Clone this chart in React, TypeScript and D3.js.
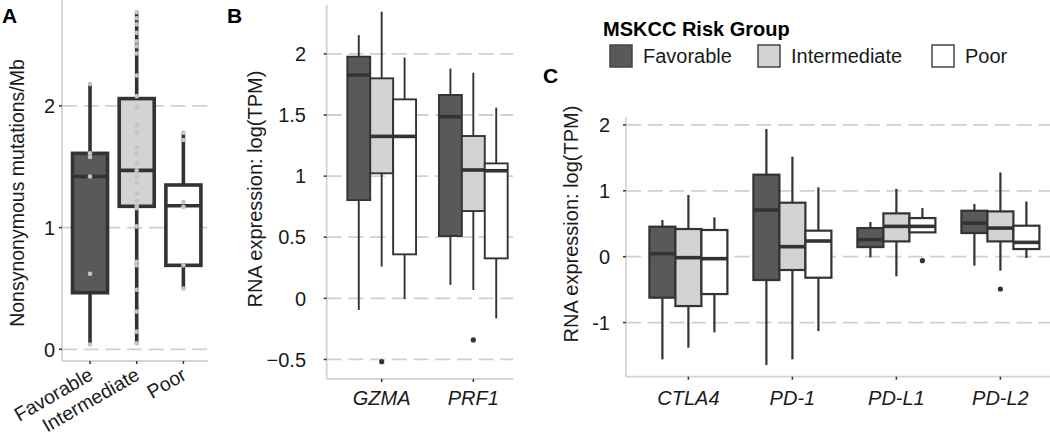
import React from "react";
import * as d3 from "d3";

// ---------- shared ----------
const riskGroups = ["Favorable", "Intermediate", "Poor"];
const groupFills = ["#595959", "#d3d3d3", "#ffffff"];

// ---------- Panel A: nonsynonymous mutations / Mb ----------
const tmbLow = [0.04, 0.04, 0.49];
const tmbQ1 = [0.465, 1.175, 0.69];
const tmbMedian = [1.42, 1.47, 1.18];
const tmbQ3 = [1.61, 2.06, 1.35];
const tmbHigh = [2.18, 2.77, 1.775];
const tmbPointsFavorable = [2.18, 1.61, 1.58, 1.42, 0.62, 0.04];
const tmbPointsIntermediate = [
  2.77, 2.72, 2.67, 2.6, 2.53, 2.49, 2.43, 2.25, 2.08, 1.99, 1.84, 1.78, 1.66, 1.61, 1.53,
  1.47, 1.42, 1.37, 1.28, 1.22, 1.18, 1.16, 1.01, 0.72, 0.69, 0.49, 0.31, 0.145, 0.05,
];
const tmbPointsPoor = [1.78, 1.72, 1.21, 1.17, 0.69, 0.5];
const tmbTicks = [0, 1, 2];

// ---------- Panel B: GZMA / PRF1 ----------
const cytolyticGenes = ["GZMA", "PRF1"];
const bLow = [[-0.095, 0.26, -0.005], [0.11, 0.068, -0.164]];
const bQ1 = [[0.804, 1.023, 0.36], [0.51, 0.714, 0.327]];
const bMedian = [[1.827, 1.325, 1.325], [1.486, 1.05, 1.044]];
const bQ3 = [[1.977, 1.8, 1.628], [1.664, 1.328, 1.104]];
const bHigh = [[2.154, 2.345, 1.97], [1.88, 1.846, 1.56]];
const bOutlierGene = [0, 1];
const bOutlierGroup = [1, 1];
const bOutlierValue = [-0.518, -0.34];
const bTicks = [-0.5, 0, 0.5, 1, 1.5, 2];

// ---------- Panel C: checkpoint genes ----------
const checkpointGenes = ["CTLA4", "PD-1", "PD-L1", "PD-L2"];
const cLow = [[-1.558, -1.381, -1.148], [-1.644, -1.558, -1.128], [-0.01, -0.298, 0.369], [-0.136, -0.212, -0.02]];
const cQ1 = [[-0.622, -0.749, -0.567], [-0.354, -0.202, -0.319], [0.146, 0.232, 0.369], [0.359, 0.232, 0.116]];
const cMedian = [[0.046, -0.015, -0.03], [0.708, 0.152, 0.238], [0.258, 0.46, 0.46], [0.51, 0.434, 0.217]];
const cQ3 = [[0.455, 0.42, 0.405], [1.244, 0.819, 0.395], [0.434, 0.657, 0.586], [0.697, 0.687, 0.47]];
const cHigh = [[0.556, 0.936, 0.597], [1.937, 1.517, 1.052], [0.525, 1.03, 0.737], [0.798, 1.278, 0.838]];
const cOutlierGene = [2, 3];
const cOutlierGroup = [2, 1];
const cOutlierValue = [-0.06, -0.49];
const cTicks = [-1, 0, 1, 2];

const FONT = "'Liberation Sans', Arial, Helvetica, sans-serif";
const INK = "#333333";
const AXIS = "#d4d4d4";
const GRID = "#d0d0d0";

type BoxProps = {
  cx: number; w: number; y: d3.ScaleLinear<number, number>;
  lo: number; q1: number; med: number; q3: number; hi: number;
  fill: string; sw: number; msw: number;
};

function Box({ cx, w, y, lo, q1, med, q3, hi, fill, sw, msw }: BoxProps) {
  return (
    <g>
      <line x1={cx} x2={cx} y1={y(hi)} y2={y(q3)} stroke={INK} strokeWidth={sw} />
      <line x1={cx} x2={cx} y1={y(q1)} y2={y(lo)} stroke={INK} strokeWidth={sw} />
      <rect x={cx - w / 2} y={y(q3)} width={w} height={y(q1) - y(q3)} fill={fill} stroke={INK} strokeWidth={sw} />
      <line x1={cx - w / 2} x2={cx + w / 2} y1={y(med)} y2={y(med)} stroke={INK} strokeWidth={msw} />
    </g>
  );
}

function YAxis({ y, ticks, x0, x1, labelRight, fmt }: {
  y: d3.ScaleLinear<number, number>; ticks: number[]; x0: number; x1: number; labelRight: number; fmt: (v: number) => string;
}) {
  const [r0, r1] = y.range();
  return (
    <g>
      {ticks.map((t) => (
        <line key={"g" + t} x1={x0} x2={x1} y1={y(t)} y2={y(t)} stroke={GRID} strokeWidth={1.8} strokeDasharray="15 6.7" />
      ))}
      <line x1={x0} x2={x0} y1={r0} y2={r1} stroke={AXIS} strokeWidth={1.8} />
      {ticks.map((t) => (
        <g key={"t" + t}>
          <line x1={x0 - 3} x2={x0} y1={y(t)} y2={y(t)} stroke={INK} strokeWidth={1.5} />
          <text x={labelRight} y={y(t)} dy="0.36em" textAnchor="end" fontSize={20} fill="#1a1a1a">{fmt(t)}</text>
        </g>
      ))}
    </g>
  );
}

export default function App() {
  // Panel A scales
  const xA = d3.scalePoint<string>().domain(riskGroups).range([62, 211.4]).padding(0.6);
  const yA = d3.scaleLinear().domain([-0.096, 2.87]).range([361, 0]);
  const wA = xA.step() * 0.75;
  const tmbPoints = [tmbPointsFavorable, tmbPointsIntermediate, tmbPointsPoor];

  // Panel B scales
  const xB = d3.scalePoint<string>().domain(cytolyticGenes).range([326.7, 528.3]).padding(0.6);
  const yB = d3.scaleLinear().domain([-0.66, 2.4]).range([379, 5]);
  const wB = (xB.step() * 0.75) / 3;

  // Panel C scales
  const xC = d3.scalePoint<string>().domain(checkpointGenes).range([626, 1062.8]).padding(0.6);
  const yC = d3.scaleLinear().domain([-1.821, 2.124]).range([376.7, 116.7]);
  const wC = (xC.step() * 0.75) / 3;

  const fmtB = d3.format("");

  return (
    <svg width={1050} height={437} style={{ position: "absolute", left: 0, top: 0, background: "#fff" }} fontFamily={FONT}>
      <rect width={1050} height={437} fill="#ffffff" />

      {/* ---------------- Panel A ---------------- */}
      <g>
        <YAxis y={yA} ticks={tmbTicks} x0={62} x1={208} labelRight={55} fmt={(v) => String(v)} />
        <line x1={62} x2={208} y1={361} y2={361} stroke={AXIS} strokeWidth={1.8} />
        {riskGroups.map((g, i) => (
          <Box key={g} cx={xA(g)!} w={wA} y={yA} lo={tmbLow[i]} q1={tmbQ1[i]} med={tmbMedian[i]} q3={tmbQ3[i]} hi={tmbHigh[i]}
            fill={groupFills[i]} sw={3.6} msw={3.6} />
        ))}
        {riskGroups.map((g, i) =>
          tmbPoints[i].map((v, j) => (
            <circle key={g + j} cx={xA(g)!} cy={yA(v)} r={2.3} fill="#c4c4c4" />
          ))
        )}
        {riskGroups.map((g) => (
          <g key={"xt" + g}>
            <line x1={xA(g)!} x2={xA(g)!} y1={361} y2={364} stroke={INK} strokeWidth={1.5} />
            <text transform={`translate(${xA(g)! - 3},${366}) rotate(-30)`} textAnchor="end" dy="0.75em" fontSize={19.5} fill="#1a1a1a">{g}</text>
          </g>
        ))}
        <text transform="translate(17,193) rotate(-90)" textAnchor="middle" dy="0.35em" fontSize={19.5} fill="#1a1a1a">Nonsynonymous mutations/Mb</text>
        <text x={2} y={23} fontSize={21} fontWeight="bold" fill="#000">A</text>
      </g>

      {/* ---------------- Panel B ---------------- */}
      <g>
        <YAxis y={yB} ticks={bTicks} x0={326.7} x1={513} labelRight={306} fmt={(v) => fmtB(v)} />
        <line x1={326.7} x2={513} y1={379} y2={379} stroke={AXIS} strokeWidth={1.8} />
        {cytolyticGenes.map((gene, gi) =>
          riskGroups.map((g, i) => (
            <Box key={gene + g} cx={xB(gene)! + (i - 1) * wB} w={wB} y={yB}
              lo={bLow[gi][i]} q1={bQ1[gi][i]} med={bMedian[gi][i]} q3={bQ3[gi][i]} hi={bHigh[gi][i]}
              fill={groupFills[i]} sw={1.9} msw={3.6} />
          ))
        )}
        {bOutlierValue.map((v, k) => (
          <circle key={"bo" + k} cx={xB(cytolyticGenes[bOutlierGene[k]])! + (bOutlierGroup[k] - 1) * wB} cy={yB(v)} r={2.6} fill={INK} />
        ))}
        {cytolyticGenes.map((gene) => (
          <g key={"xb" + gene}>
            <line x1={xB(gene)!} x2={xB(gene)!} y1={379} y2={382} stroke={INK} strokeWidth={1.5} />
            <text x={xB(gene)!} y={405} textAnchor="middle" fontSize={20} fontStyle="italic" fill="#1a1a1a">{gene}</text>
          </g>
        ))}
        <text transform="translate(255,189) rotate(-90)" textAnchor="middle" dy="0.35em" fontSize={20} fill="#1a1a1a">RNA expression: log(TPM)</text>
        <text x={227} y={23} fontSize={21} fontWeight="bold" fill="#000">B</text>
      </g>

      {/* ---------------- Panel C ---------------- */}
      <g>
        <YAxis y={yC} ticks={cTicks} x0={626} x1={1050} labelRight={610} fmt={(v) => String(v)} />
        <line x1={626} x2={1050} y1={376.7} y2={376.7} stroke={AXIS} strokeWidth={1.8} />
        {checkpointGenes.map((gene, gi) =>
          riskGroups.map((g, i) => (
            <Box key={gene + g} cx={xC(gene)! + (i - 1) * wC} w={wC} y={yC}
              lo={cLow[gi][i]} q1={cQ1[gi][i]} med={cMedian[gi][i]} q3={cQ3[gi][i]} hi={cHigh[gi][i]}
              fill={groupFills[i]} sw={2.2} msw={3.6} />
          ))
        )}
        {cOutlierValue.map((v, k) => (
          <circle key={"co" + k} cx={xC(checkpointGenes[cOutlierGene[k]])! + (cOutlierGroup[k] - 1) * wC} cy={yC(v)} r={2.6} fill={INK} />
        ))}
        {checkpointGenes.map((gene) => (
          <g key={"xc" + gene}>
            <line x1={xC(gene)!} x2={xC(gene)!} y1={376.7} y2={379.7} stroke={INK} strokeWidth={1.5} />
            <text x={xC(gene)!} y={405} textAnchor="middle" fontSize={20} fontStyle="italic" fill="#1a1a1a">{gene}</text>
          </g>
        ))}
        <text transform="translate(571,224) rotate(-90)" textAnchor="middle" dy="0.35em" fontSize={20} fill="#1a1a1a">RNA expression: log(TPM)</text>
        <text x={543} y={83} fontSize={21} fontWeight="bold" fill="#000">C</text>
      </g>

      {/* ---------------- Legend ---------------- */}
      <g>
        <text x={603} y={36} fontSize={20} fontWeight="bold" fill="#000">MSKCC Risk Group</text>
        {riskGroups.map((g, i) => {
          const lx = [610, 758, 932][i];
          return (
            <g key={"lg" + g}>
              <rect x={lx} y={45} width={22} height={22} fill={groupFills[i]} stroke="#444" strokeWidth={1.5} />
              <text x={lx + 33} y={63} fontSize={20} fill="#1a1a1a">{g}</text>
            </g>
          );
        })}
      </g>
    </svg>
  );
}
